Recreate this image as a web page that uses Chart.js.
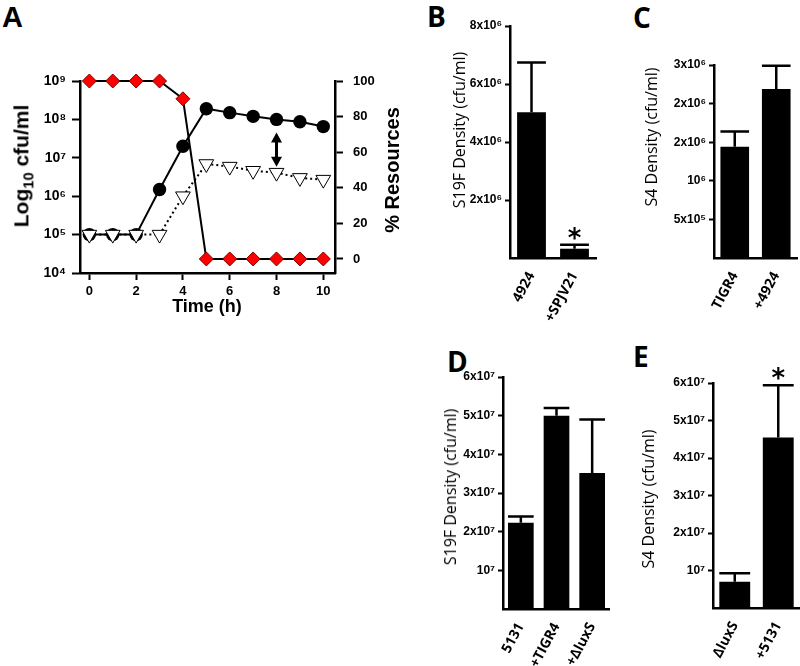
<!DOCTYPE html>
<html>
<head>
<meta charset="utf-8">
<script src="https://cdn.jsdelivr.net/npm/chart.js@4"></script>
<style>
body{margin:0;background:#fff;width:800px;height:666px;position:relative;overflow:hidden;font-family:"Liberation Sans",Arial,sans-serif;color:#000}
.box{position:absolute}
.txt{position:absolute;white-space:nowrap;color:#000}
.rot{transform:translate(-50%,-50%) rotate(-90deg)}
.mid{transform:translate(-50%,-50%)}
.letter{font-size:28px;line-height:28px;font-weight:bold}
.dens{font-family:"Open Sans",sans-serif;font-size:16px}
sub{font-size:0.7em}
</style>
</head>
<body>

<div class="txt letter" style="left:2px;top:3px;font-size:29px">A</div>
<div class="txt letter" style="left:427px;top:2px;font-family:'Open Sans'">B</div>
<div class="txt letter" style="left:633px;top:3px;font-family:'Open Sans'">C</div>
<div class="txt letter" style="left:447px;top:347px;font-family:'Open Sans'">D</div>
<div class="txt letter" style="left:633px;top:342px;font-family:'Open Sans'">E</div>

<div class="box" style="left:0;top:0"><canvas id="chartA" width="420" height="330"></canvas></div>
<div class="box" style="left:420px;top:0"><canvas id="chartB" width="190" height="330"></canvas></div>
<div class="box" style="left:610px;top:0"><canvas id="chartC" width="190" height="330"></canvas></div>
<div class="box" style="left:420px;top:330px"><canvas id="chartD" width="190" height="336"></canvas></div>
<div class="box" style="left:610px;top:330px"><canvas id="chartE" width="190" height="336"></canvas></div>

<div class="txt rot" style="left:23px;top:166px;font-size:21px;font-weight:bold">Log<sub>10</sub> cfu/ml</div>
<div class="txt rot" style="left:392px;top:170px;font-size:20px;font-weight:bold">% Resources</div>
<div class="txt mid" style="left:207px;top:306px;font-size:18px;font-weight:bold">Time (h)</div>
<div class="txt rot dens" style="left:459px;top:130px">S19F Density (cfu/ml)</div>
<div class="txt rot dens" style="left:651px;top:137px">S4 Density (cfu/ml)</div>
<div class="txt rot dens" style="left:450px;top:487px">S19F Density (cfu/ml)</div>
<div class="txt rot dens" style="left:648px;top:499px">S4 Density (cfu/ml)</div>

<script>
// panel A
const hours = [0, 1, 2, 3, 4, 5, 6, 7, 8, 9, 10];
const resources = [100, 100, 100, 100, 90, 0, 0, 0, 0, 0, 0];
const cfuCircles = [1e5, 1e5, 1e5, 1.5e6, 2e7, 1.9e8, 1.5e8, 1.2e8, 1.0e8, 8.7e7, 6.5e7];
const cfuTriangles = [1e5, 1e5, 1e5, 1e5, 1e6, 6.9e6, 5.9e6, 4.6e6, 4.1e6, 3.0e6, 2.7e6];
const hourTicks = [0, 2, 4, 6, 8, 10];
const logTicks = [1e4, 1e5, 1e6, 1e7, 1e8, 1e9];
const resTicks = [0, 20, 40, 60, 80, 100];

// panel B
const bLabels = ["4924", "+SPJV21"];
const bMeans = [5.03e6, 0.32e6];
const bUpper = [6.74e6, 0.46e6];
const bTicks = [2e6, 4e6, 6e6, 8e6];
const bTickText = ["2x10⁶", "4x10⁶", "6x10⁶", "8x10⁶"];

// panel C
const cLabels = ["TIGR4", "+4924"];
const cMeans = [1.44e6, 2.19e6];
const cUpper = [1.64e6, 2.49e6];
const cTicks = [5e5, 1e6, 1.5e6, 2e6, 2.5e6];
const cTickText = ["5x10⁵", "10⁶", "2x10⁶", "2x10⁶", "3x10⁶"];

// panel D
const dLabels = ["5131", "+TIGR4", "+ΔluxS"];
const dMeans = [2.23e7, 5.0e7, 3.52e7];
const dUpper = [2.39e7, 5.2e7, 4.9e7];
// panel E
const eLabels = ["ΔluxS", "+5131"];
const eMeans = [0.70e7, 4.55e7];
const eUpper = [0.93e7, 5.94e7];
const deTicks = [1e7, 2e7, 3e7, 4e7, 5e7, 6e7];
const deTickText = ["10⁷", "2x10⁷", "3x10⁷", "4x10⁷", "5x10⁷", "6x10⁷"];

Chart.defaults.font.family = "'Liberation Sans', Arial, sans-serif";
Chart.defaults.color = "#000";

const sup = "⁰¹²³⁴⁵⁶⁷⁸⁹";
function pow10(v) {
  return "10" + String(Math.round(Math.log10(v))).split("").map(d => sup[+d]).join("");
}

const arrowPlugin = {
  id: "doubleArrow",
  afterDatasetsDraw(chart) {
    const ctx = chart.ctx;
    const x = chart.scales.x.getPixelForValue(hours[8]);
    const y1 = chart.scales.y.getPixelForValue(cfuCircles[8]) + 13;
    const y2 = chart.scales.y.getPixelForValue(cfuTriangles[8]) - 6;
    ctx.save();
    ctx.fillStyle = "#000";
    ctx.strokeStyle = "#000";
    ctx.lineWidth = 3;
    ctx.beginPath();
    ctx.moveTo(x, y1 + 6);
    ctx.lineTo(x, y2 - 6);
    ctx.stroke();
    ctx.beginPath();
    ctx.moveTo(x, y1); ctx.lineTo(x - 5.5, y1 + 10); ctx.lineTo(x + 5.5, y1 + 10); ctx.closePath();
    ctx.moveTo(x, y2); ctx.lineTo(x - 5.5, y2 - 10); ctx.lineTo(x + 5.5, y2 - 10); ctx.closePath();
    ctx.fill();
    ctx.restore();
  }
};

const tickGrid = {drawOnChartArea: false, tickLength: 8, tickWidth: 2, tickColor: "#000"};
const axisBorder = {color: "#000", width: 2.5};
const boldTick = {weight: "bold", size: 13};

new Chart(document.getElementById("chartA"), {
  type: "line",
  data: {
    datasets: [
      {
        data: hours.map((h, i) => ({x: h, y: resources[i]})),
        yAxisID: "yr",
        order: 1,
        clip: false,
        borderColor: "#000",
        borderWidth: 2,
        pointStyle: "rectRot",
        pointRadius: 7,
        pointBackgroundColor: "#ff0000",
        pointBorderColor: "#7a0000",
        pointBorderWidth: 1
      },
      {
        data: hours.map((h, i) => ({x: h, y: cfuTriangles[i]})),
        yAxisID: "y",
        order: 2,
        clip: false,
        borderColor: "#000",
        borderWidth: 2,
        borderDash: [2, 3],
        pointStyle: "triangle",
        pointRotation: 180,
        pointRadius: 8.5,
        pointBackgroundColor: "#fff",
        pointBorderColor: "#000",
        pointBorderWidth: 1
      },
      {
        data: hours.map((h, i) => ({x: h, y: cfuCircles[i]})),
        yAxisID: "y",
        order: 3,
        clip: false,
        borderColor: "#000",
        borderWidth: 2,
        pointStyle: "circle",
        pointRadius: 6.7,
        pointBackgroundColor: "#000",
        pointBorderColor: "#000",
        pointBorderWidth: 0
      }
    ]
  },
  options: {
    responsive: false,
    animation: false,
    events: [],
    layout: {padding: {top: 81, left: 0, right: 0, bottom: 0}},
    plugins: {legend: {display: false}, tooltip: {enabled: false}},
    scales: {
      x: {
        type: "linear",
        min: -0.4,
        max: 10.5,
        afterBuildTicks: s => { s.ticks = hourTicks.map(v => ({value: v})); },
        afterFit: s => { s.height = 57; },
        grid: {drawOnChartArea: false, tickLength: 7, tickWidth: 2, tickColor: "#000"},
        border: axisBorder,
        ticks: {padding: 4, font: boldTick}
      },
      y: {
        type: "logarithmic",
        position: "left",
        min: 1e4,
        max: 1e9,
        afterBuildTicks: s => { s.ticks = logTicks.map(v => ({value: v})); },
        afterFit: s => { s.width = 80; },
        grid: tickGrid,
        border: axisBorder,
        ticks: {padding: 6, font: {weight: "bold", size: 14}, callback: v => pow10(v)}
      },
      yr: {
        type: "linear",
        position: "right",
        min: -7.9,
        max: 100,
        afterBuildTicks: s => { s.ticks = resTicks.map(v => ({value: v})); },
        afterFit: s => { s.width = 85; },
        grid: tickGrid,
        border: axisBorder,
        ticks: {padding: 10, font: boldTick}
      }
    }
  },
  plugins: [arrowPlugin]
});

const errorPlugin = {
  id: "errorBars",
  afterDatasetsDraw(chart, args, opts) {
    const ctx = chart.ctx;
    const meta = chart.getDatasetMeta(0);
    const y = chart.scales.y;
    ctx.save();
    ctx.strokeStyle = "#000";
    ctx.lineWidth = 2.5;
    meta.data.forEach((bar, i) => {
      const top = y.getPixelForValue(opts.upper[i]);
      const half = bar.width / 2;
      ctx.beginPath();
      ctx.moveTo(bar.x, bar.y);
      ctx.lineTo(bar.x, top);
      ctx.moveTo(bar.x - half, top);
      ctx.lineTo(bar.x + half, top);
      ctx.stroke();
      if (opts.star === i) {
        ctx.fillStyle = "#000";
        ctx.font = "bold 26px 'DejaVu Sans'";
        ctx.textAlign = "center";
        ctx.textBaseline = "alphabetic";
        ctx.fillText("*", bar.x, top + 2);
      }
    });
    ctx.restore();
  }
};

function barPanel(id, labels, means, upper, ticks, tickText, max, lay) {
  new Chart(document.getElementById(id), {
    type: "bar",
    data: {
      labels: labels,
      datasets: [{
        data: means,
        backgroundColor: "#000",
        borderWidth: 0,
        barPercentage: lay.bar,
        categoryPercentage: 1
      }]
    },
    options: {
      responsive: false,
      animation: false,
      events: [],
      layout: {padding: {top: lay.top, right: lay.right, left: 0, bottom: 0}},
      plugins: {
        legend: {display: false},
        tooltip: {enabled: false},
        errorBars: {upper: upper, star: lay.star}
      },
      scales: {
        x: {
          grid: {display: false},
          border: axisBorder,
          afterFit: s => { s.height = lay.xh; },
          ticks: {
            autoSkip: false,
            minRotation: 62,
            maxRotation: 62,
            padding: 3,
            font: {family: "'Open Sans', sans-serif", weight: "bold", size: 14}
          }
        },
        y: {
          min: 0,
          max: max,
          afterBuildTicks: s => { s.ticks = ticks.map(v => ({value: v})); },
          afterFit: s => { s.width = lay.yw; },
          grid: {drawOnChartArea: false, tickLength: 5, tickWidth: 2, tickColor: "#000"},
          border: axisBorder,
          ticks: {padding: 3, font: {weight: "bold", size: 12}, callback: (v, i) => tickText[i]}
        }
      }
    },
    plugins: [errorPlugin]
  });
}

barPanel("chartB", bLabels, bMeans, bUpper, bTicks, bTickText, 8e6,
  {yw: 90, top: 26, right: 14, xh: 72, bar: 0.67, star: 1});
barPanel("chartC", cLabels, cMeans, cUpper, cTicks, cTickText, 2.5e6,
  {yw: 104, top: 65, right: 3, xh: 72, bar: 0.69, star: -1});
barPanel("chartD", dLabels, dMeans, dUpper, deTicks, deTickText, 6e7,
  {yw: 83, top: 47, right: 0, xh: 57, bar: 0.72, star: -1});
barPanel("chartE", eLabels, eMeans, eUpper, deTicks, deTickText, 6e7,
  {yw: 103, top: 53, right: 0, xh: 58, bar: 0.71, star: 1});
</script>
</body>
</html>
